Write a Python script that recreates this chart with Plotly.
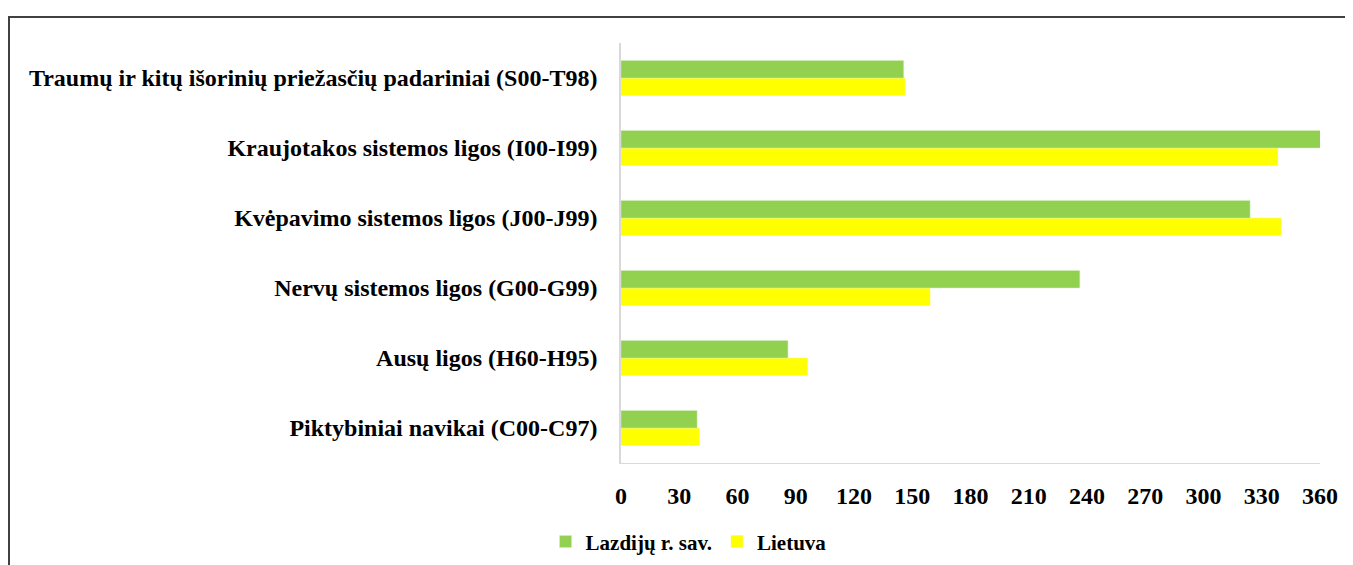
import plotly.graph_objects as go

# categories listed bottom to top, as plotly draws them
categories = [
    "Piktybiniai navikai (C00-C97)",
    "Ausų ligos (H60-H95)",
    "Nervų sistemos ligos (G00-G99)",
    "Kvėpavimo sistemos ligos (J00-J99)",
    "Kraujotakos sistemos ligos (I00-I99)",
    "Traumų ir kitų išorinių priežasčių padariniai (S00-T98)",
]
lazdiju = [39.2, 86, 236.3, 324, 360.4, 145.6]
lietuva = [40.4, 96.1, 159.2, 340, 338.3, 146.4]
x_ticks = [0, 30, 60, 90, 120, 150, 180, 210, 240, 270, 300, 330, 360]

W, H = 1353, 565
# page body has an 8px margin, so the figure starts at (8, 8)
left, right, top, bottom = 613, 41, 35, 110

fig = go.Figure()

# yellow added first so green sits on top within each group
fig.add_trace(
    go.Bar(
        name="Lietuva",
        y=categories,
        x=lietuva,
        orientation="h",
        marker=dict(color="#FFFF00", line=dict(color="#F2F2A0", width=0.5)),
    )
)
fig.add_trace(
    go.Bar(
        name="Lazdijų r. sav.",
        y=categories,
        x=lazdiju,
        orientation="h",
        marker=dict(color="#92D050", line=dict(color="#D6EFC0", width=0.5)),
    )
)

plot_w = W - left - right
plot_h = H - top - bottom

# outer frame (only top and left edges fall inside the picture)
fig.add_shape(
    type="rect",
    xref="paper",
    yref="paper",
    x0=(1 - left) / plot_w,
    x1=1.5,
    y0=-1.0,
    y1=(H - bottom - 9) / plot_h,
    line=dict(color="#404040", width=2),
    layer="above",
)

fig.update_layout(
    width=W,
    height=H,
    barmode="group",
    bargap=0.5,
    bargroupgap=0,
    margin=dict(l=left, r=right, t=top, b=bottom, pad=0),
    plot_bgcolor="white",
    paper_bgcolor="white",
    font=dict(family="Liberation Serif", size=24, color="black", weight="bold"),
    legend=dict(
        orientation="h",
        traceorder="reversed",
        xref="container",
        yref="container",
        x=0.503,
        y=0.055,
        xanchor="center",
        yanchor="middle",
        font=dict(size=21),
        itemwidth=30,
    ),
    showlegend=True,
)

fig.update_xaxes(
    range=[0, 360],
    tickvals=x_ticks,
    showgrid=False,
    zeroline=False,
    showline=True,
    linecolor="#D9D9D9",
    linewidth=1,
    ticks="",
    ticklabelstandoff=11,
)
fig.update_yaxes(
    showgrid=False,
    showline=True,
    linecolor="#D9D9D9",
    linewidth=1.5,
    ticks="",
    ticklabelstandoff=17,
)

fig.write_html("out.html")
